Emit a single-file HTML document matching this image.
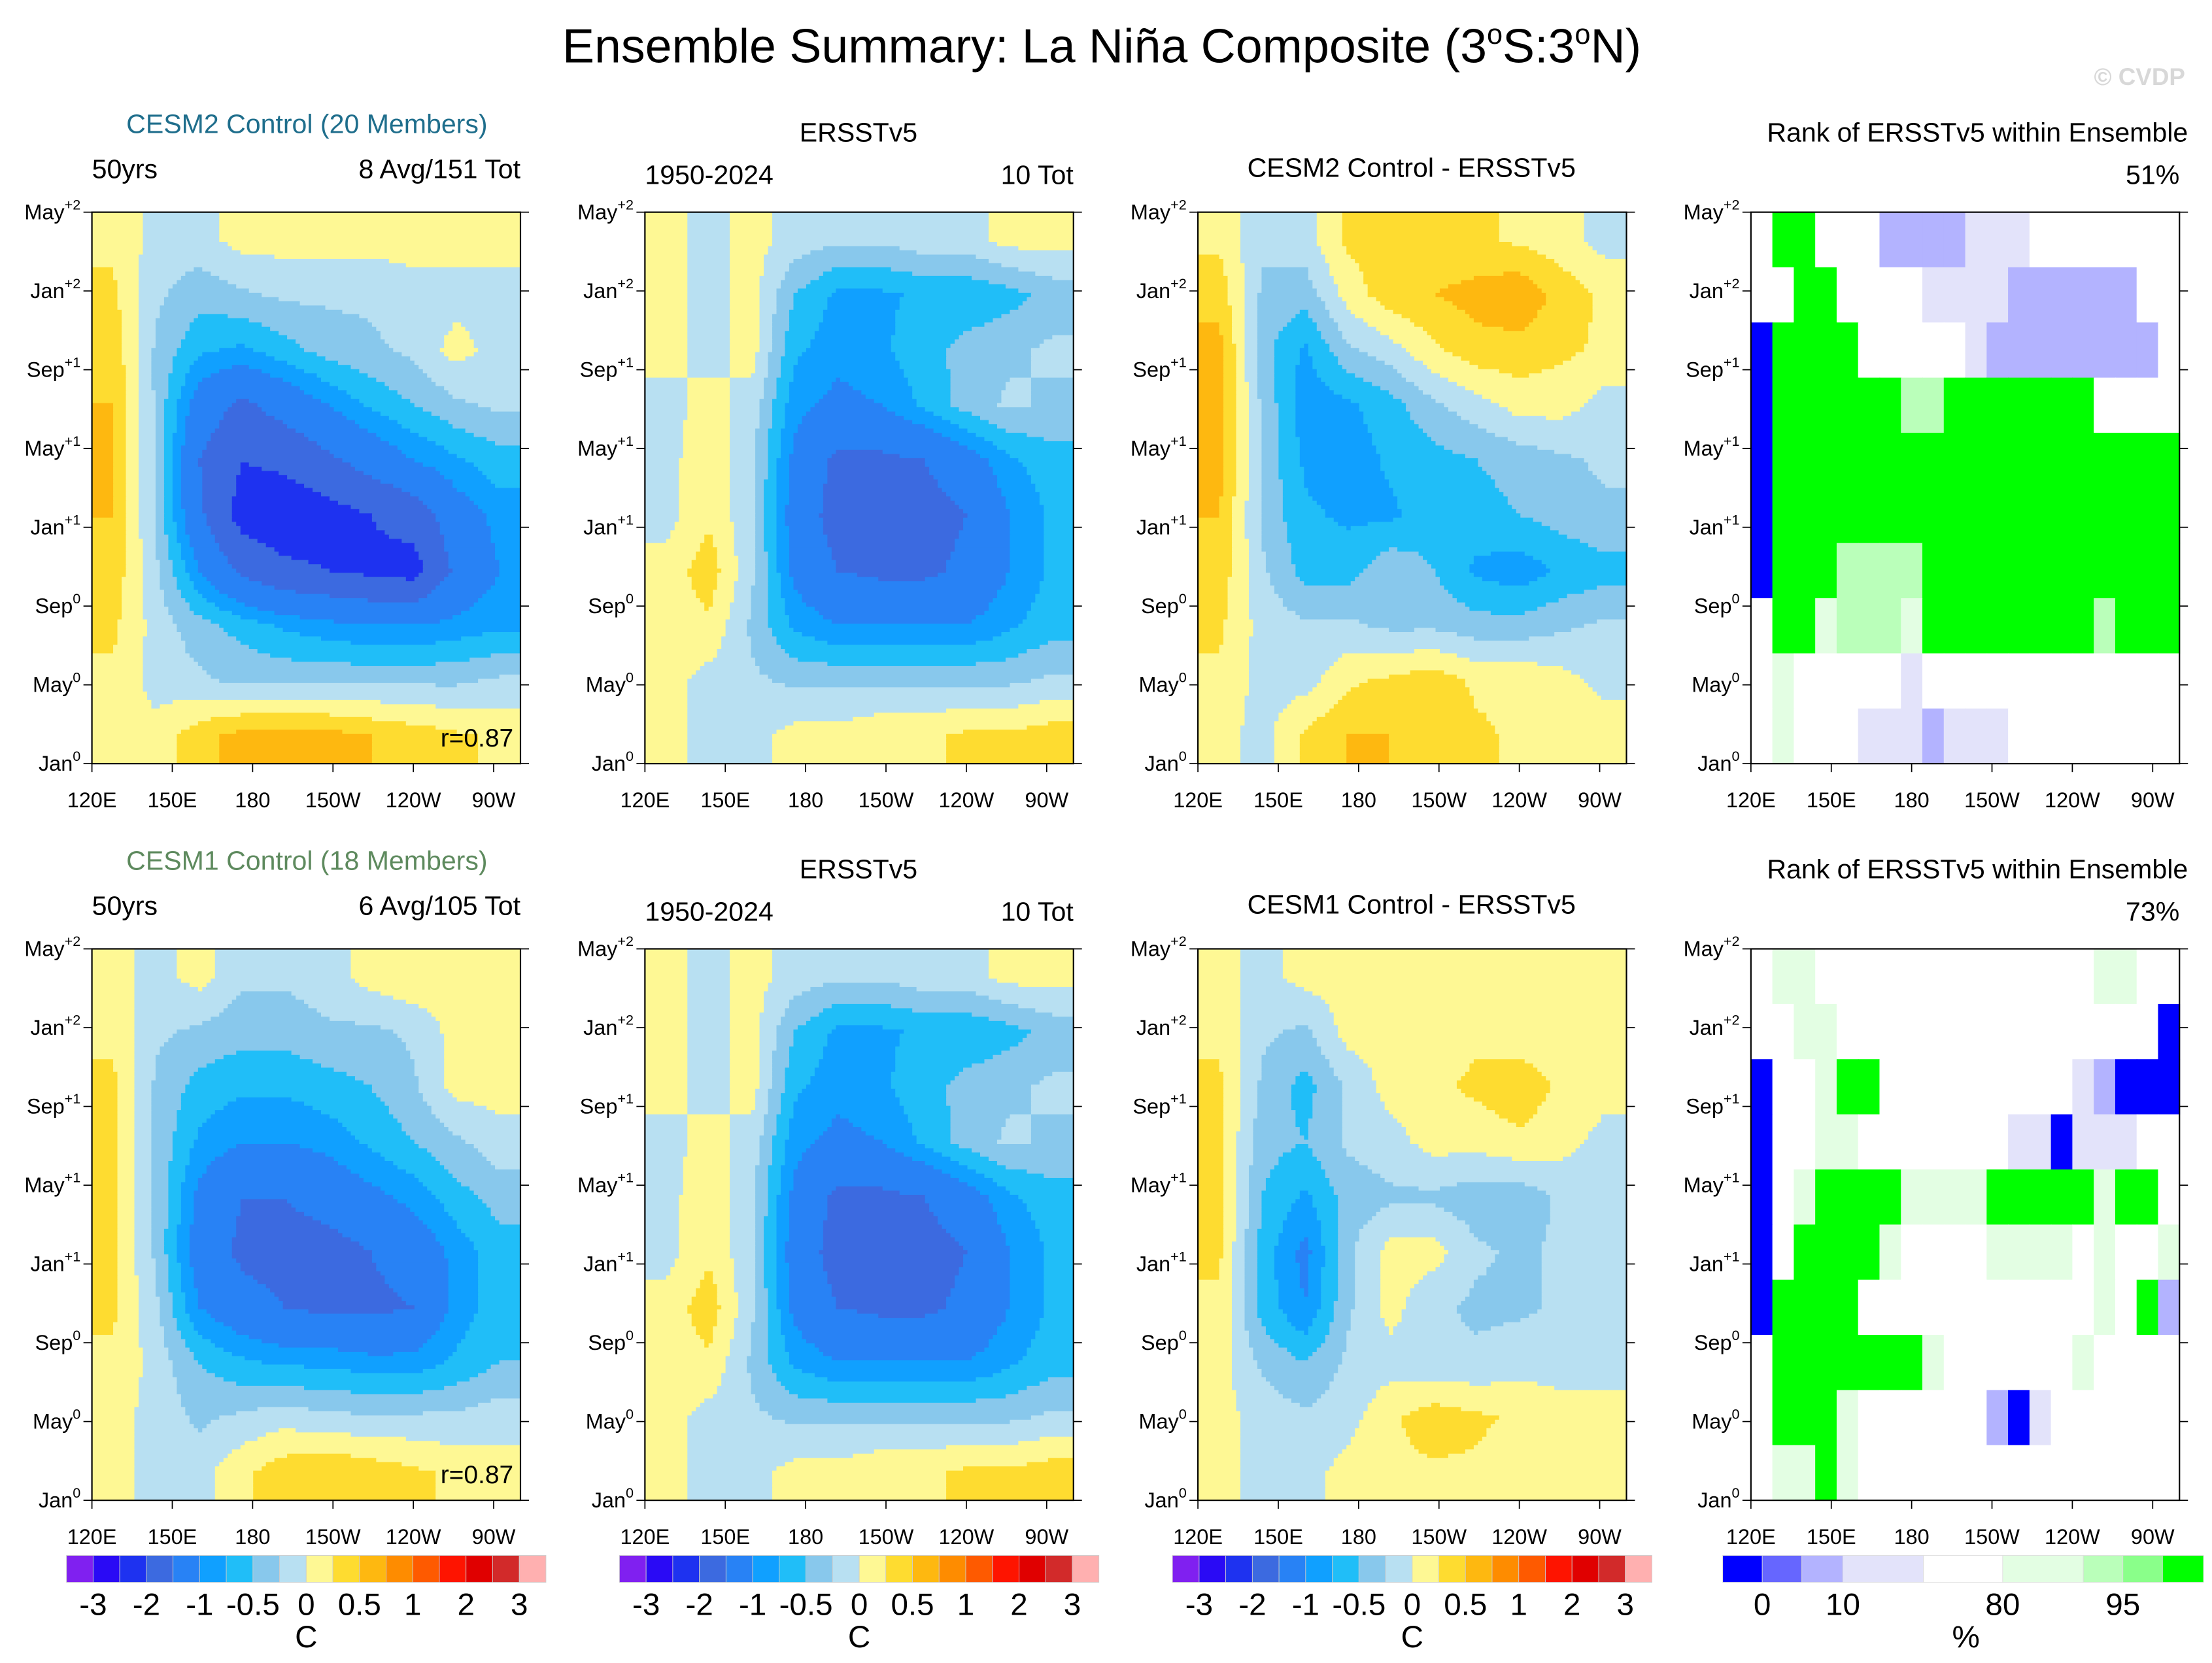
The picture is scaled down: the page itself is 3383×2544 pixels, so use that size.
<!DOCTYPE html>
<html><head><meta charset="utf-8"><style>
html,body{margin:0;padding:0;background:#fff;}
svg{display:block;font-family:"Liberation Sans",sans-serif;}
</style></head><body>
<svg id="fig" xmlns="http://www.w3.org/2000/svg" width="3383" height="2544" viewBox="0 0 1564 1176">
<rect width="1564" height="1176" fill="#fff"/>
<text x="779" y="44" font-size="34" text-anchor="middle">Ensemble Summary: La Niña Composite (3<tspan font-size="20" dy="-13">o</tspan><tspan dy="13">S:3</tspan><tspan font-size="20" dy="-13">o</tspan><tspan dy="13">N)</tspan></text>
<text x="1545" y="60" font-size="17" font-weight="bold" fill="#d8d8d8" text-anchor="end">© CVDP</text>
<g id="layer"></g>
</svg>
<script>
// ---- data (rows: top = May+2 ... bottom = Jan0; cols: 120E -> 80W) ----
const cesm2 = [
[0.2,-0.1,-0.1,0.1,0.1,0.1,0.1,0.1,0.1,0.1],
[0.3,-0.2,-0.4,-0.3,-0.2,-0.2,-0.2,-0.1,-0.1,-0.1],
[0.4,-0.3,-0.7,-0.8,-0.6,-0.4,-0.3,-0.2,0.1,-0.1],
[0.5,-0.3,-1.2,-1.6,-1.3,-1.0,-0.7,-0.5,-0.3,-0.2],
[0.5,-0.3,-1.5,-2.0,-1.9,-1.6,-1.3,-1.0,-0.8,-0.6],
[0.5,-0.3,-1.4,-2.2,-2.3,-2.2,-2.0,-1.8,-1.2,-0.9],
[0.4,-0.2,-1.0,-1.6,-1.9,-2.0,-2.1,-2.2,-1.4,-1.0],
[0.3,-0.1,-0.4,-0.6,-0.8,-0.9,-1.0,-1.0,-0.9,-0.8],
[0.2,-0.1,-0.2,-0.3,-0.3,-0.3,-0.3,-0.3,-0.3,-0.2],
[0.0,0.1,0.4,0.6,0.6,0.6,0.5,0.4,0.3,0.2]];
const ersst = [
[0.1,-0.1,0.1,-0.1,-0.2,-0.2,-0.1,-0.1,0.1,0.1],
[0.1,-0.1,0.1,-0.5,-0.8,-0.8,-0.7,-0.7,-0.6,-0.4],
[0.1,-0.1,0.1,-0.7,-0.9,-0.8,-0.6,-0.4,-0.3,-0.2],
[-0.1,0.1,-0.1,-0.9,-1.1,-1.0,-0.7,-0.4,-0.2,-0.3],
[-0.1,0.2,-0.2,-1.1,-1.6,-1.6,-1.5,-1.2,-0.8,-0.6],
[-0.1,0.2,-0.2,-1.2,-1.7,-1.8,-1.7,-1.5,-1.0,-0.7],
[0.1,0.4,-0.2,-1.1,-1.5,-1.6,-1.6,-1.4,-1.0,-0.7],
[0.1,0.2,-0.3,-0.8,-1.0,-1.0,-1.0,-1.0,-0.8,-0.6],
[0.1,-0.1,-0.2,-0.3,-0.3,-0.3,-0.3,-0.3,-0.3,-0.2],
[0.1,-0.1,-0.1,0.1,0.1,0.2,0.2,0.3,0.3,0.4]];
const diff2 = [
[0.2,-0.2,-0.1,0.3,0.4,0.3,0.3,0.2,0.1,-0.1],
[0.4,-0.3,-0.4,0.1,0.4,0.5,0.6,0.7,0.4,0.2],
[0.6,-0.4,-0.8,-0.3,-0.1,0.2,0.4,0.4,0.3,0.2],
[0.6,-0.3,-0.9,-0.8,-0.6,-0.3,-0.1,0.1,0.1,-0.1],
[0.6,-0.3,-0.8,-0.9,-0.7,-0.6,-0.5,-0.4,-0.3,-0.2],
[0.5,-0.3,-0.7,-0.8,-0.8,-0.6,-0.6,-0.5,-0.4,-0.3],
[0.4,-0.2,-0.6,-0.6,-0.3,-0.5,-0.8,-0.9,-0.7,-0.6],
[0.3,-0.1,-0.2,-0.2,-0.3,-0.3,-0.4,-0.4,-0.3,-0.2],
[0.2,-0.1,-0.1,0.2,0.3,0.4,0.2,0.2,0.1,-0.1],
[0.1,-0.1,0.3,0.5,0.5,0.4,0.3,0.2,0.2,0.2]];
const cesm1 = [
[0.1,-0.1,0.1,-0.2,-0.2,-0.1,0.1,0.2,0.1,0.1],
[0.2,-0.2,-0.3,-0.4,-0.4,-0.3,-0.3,-0.2,0.1,0.1],
[0.3,-0.3,-0.6,-0.7,-0.7,-0.6,-0.5,-0.3,0.1,0.1],
[0.3,-0.3,-0.8,-1.0,-1.0,-0.9,-0.7,-0.5,-0.3,-0.1],
[0.3,-0.3,-1.1,-1.5,-1.5,-1.3,-1.1,-0.9,-0.6,-0.4],
[0.3,-0.3,-1.2,-1.6,-1.7,-1.7,-1.5,-1.3,-0.9,-0.6],
[0.3,-0.2,-1.0,-1.3,-1.5,-1.6,-1.6,-1.5,-0.9,-0.6],
[0.2,-0.1,-0.5,-0.7,-0.8,-0.8,-0.9,-0.9,-0.7,-0.5],
[0.1,-0.1,-0.3,-0.2,-0.1,-0.2,-0.2,-0.2,-0.2,-0.1],
[0.1,-0.1,-0.1,0.2,0.4,0.5,0.4,0.3,0.2,0.1]];
const diff1 = [
[0.1,-0.1,0.1,0.1,0.1,0.2,0.1,0.1,0.1,0.1],
[0.2,-0.2,-0.3,0.1,0.1,0.1,0.2,0.1,0.1,0.1],
[0.3,-0.3,-0.6,-0.2,0.1,0.2,0.3,0.4,0.2,0.1],
[0.3,-0.4,-0.5,-0.2,-0.1,0.1,0.1,0.2,0.1,-0.1],
[0.3,-0.5,-0.8,-0.4,-0.3,-0.3,-0.4,-0.4,-0.2,-0.2],
[0.3,-0.6,-1.1,-0.3,0.1,0.1,-0.2,-0.3,-0.2,-0.2],
[0.2,-0.6,-1.0,-0.3,0.1,-0.2,-0.3,-0.3,-0.2,-0.1],
[0.1,-0.3,-0.5,-0.2,-0.1,-0.2,-0.2,-0.1,-0.1,-0.1],
[0.1,-0.1,-0.2,-0.1,0.2,0.4,0.3,0.2,0.1,0.1],
[0.1,-0.1,-0.1,0.1,0.2,0.2,0.2,0.1,0.1,0.1]];
const rank2 = [
[50,99,99,50,50,50,8,8,8,8,15,15,15,50,50,50,50,50,50,50],
[50,50,99,99,50,50,50,50,15,15,15,15,8,8,8,8,8,8,50,50],
[1,99,99,99,99,50,50,50,50,50,15,8,8,8,8,8,8,8,8,50],
[1,99,99,99,99,99,99,92,92,99,99,99,99,99,99,99,50,50,50,50],
[1,99,99,99,99,99,99,99,99,99,99,99,99,99,99,99,99,99,99,99],
[1,99,99,99,99,99,99,99,99,99,99,99,99,99,99,99,99,99,99,99],
[1,99,99,99,92,92,92,92,99,99,99,99,99,99,99,99,99,99,99,99],
[50,99,99,85,92,92,92,85,99,99,99,99,99,99,99,99,92,99,99,99],
[50,85,50,50,50,50,50,15,50,50,50,50,50,50,50,50,50,50,50,50],
[50,85,50,50,50,15,15,15,8,15,15,15,50,50,50,50,50,50,50,50]];
const rank1 = [
[50,85,85,50,50,50,50,50,50,50,50,50,50,50,50,50,85,85,50,50],
[50,50,85,85,50,50,50,50,50,50,50,50,50,50,50,50,50,50,50,1],
[1,50,50,85,99,99,50,50,50,50,50,50,50,50,50,15,8,1,1,1],
[1,50,50,85,85,50,50,50,50,50,50,50,15,15,1,15,15,15,50,50],
[1,50,85,99,99,99,99,85,85,85,85,99,99,99,99,99,85,99,99,50],
[1,50,99,99,99,99,85,50,50,50,50,85,85,85,85,50,85,50,50,85],
[1,99,99,99,99,50,50,50,50,50,50,50,50,50,50,50,85,50,99,8],
[50,99,99,99,99,99,99,99,85,50,50,50,50,50,50,85,50,50,50,50],
[50,99,99,99,85,50,50,50,50,50,50,8,1,15,50,50,50,50,50,50],
[50,85,85,99,85,50,50,50,50,50,50,50,50,50,50,50,50,50,50,50]];
const rankPct = ["51%","73%"];
const corrLabels = ["r=0.87","r=0.87"];
const sstLevels = [-3,-2.5,-2,-1.5,-1,-0.75,-0.5,-0.25,0,0.25,0.5,0.75,1,1.5,2,2.5,3];
const sstColors = ["#8020f0","#2a0af5","#1e32f0","#3c6ae0","#2882f5","#10a0ff","#20bef8","#88c8ec","#b8e0f2","#fef894","#fedc30","#feb810","#fe8c00","#fe5a00","#fe1400","#e00000","#d22a2a","#ffb0b0"];
const sstTickLabels = ["-3","-2","-1","-0.5","0","0.5","1","2","3"];
const sstTickIdx = [0,2,4,6,8,10,12,14,16];
const rankLevels = [2.5,5,10,25,80,90,95,97.5];
const rankColors = ["#0000ff","#6666ff","#b3b3ff","#e3e3fa","#ffffff","#e3fee3","#baffba","#8aff8a","#00ff00"];
const rankTickLabels = ["0","10","80","95"];
const rankTickIdx = [1,3,5,7];
const yMonths = [28,24,20,16,12,8,4,0];
const yLabBase = ["May","Jan","Sep","May","Jan","Sep","May","Jan"];
const ySup = ["+2","+2","+1","+1","+1","0","0","0"];
const lonTicks = [120,150,180,210,240,270];
const lonLabels = ["120E","150E","180","150W","120W","90W"];

const NS="http://www.w3.org/2000/svg";
const layer=document.getElementById('layer');
function mk(tag,attrs,parent){const e=document.createElementNS(NS,tag);for(const k in attrs)e.setAttribute(k,attrs[k]);(parent||layer).appendChild(e);return e;}
const PX=[65,456,847,1238], PY=[150,671], PW=303, PH=390;
function xLon(x0,lon){return x0+(lon-120)/160*PW;}
function yMon(y0,m){return y0+PH*(1-m/28);}
function sstColor(v){let i=0;while(i<sstLevels.length&&v>=sstLevels[i])i++;return sstColors[i];}
function rankColor(v){let i=0;while(i<rankLevels.length&&v>=rankLevels[i])i++;return rankColors[i];}
function sample(g,fx,fy){
  const nr=g.length,nc=g[0].length;
  fx=Math.max(0,Math.min(nc-1,fx));fy=Math.max(0,Math.min(nr-1,fy));
  const i=Math.min(nc-2,Math.floor(fx)),j=Math.min(nr-2,Math.floor(fy));
  const tx=fx-i,ty=fy-j;
  return (g[j][i]*(1-tx)+g[j][i+1]*tx)*(1-ty)+(g[j+1][i]*(1-tx)+g[j+1][i+1]*tx)*ty;}

function drawContour(g,x0,y0,name){
  const grp=mk('g',{});
  
  
  const nr=g.length,nc=g[0].length,cs=3;
  for(let py=0;py<PH;py+=cs){
    const fy=(py+cs/2)/PH*nr-0.5;
    let runStart=0,runCol=null;
    for(let px=0;px<=PW;px+=cs){
      let col=null;
      if(px<PW){const fx=(px+cs/2)/PW*nc-0.5;col=sstColor(sample(g,fx,fy));}
      if(col!==runCol){
        if(runCol!==null){mk('rect',{x:x0+runStart,y:y0+py,width:Math.min(px,PW)-runStart+0.4,height:Math.min(cs,PH-py)+0.4,fill:runCol},grp);}
        runStart=px;runCol=col;}
    }
  }
}
function drawRank(g,x0,y0,name){
  const grp=mk('g',{});
  
  
  const nr=g.length,nc=g[0].length;
  for(let j=0;j<nr;j++)for(let i=0;i<nc;i++){
    const r=mk('rect',{x:x0+i*PW/nc,y:y0+j*PH/nr,width:PW/nc+0.4,height:PH/nr+0.4,fill:rankColor(g[j][i])},grp);
    
    
  }
}
function drawAxes(x0,y0){
  const f=mk('rect',{x:x0,y:y0,width:PW,height:PH,fill:'none',stroke:'#000','stroke-width':1});
  
  
  yMonths.forEach((m,k)=>{
    const y=yMon(y0,m);
    mk('line',{x1:x0-6,x2:x0,y1:y,y2:y,stroke:'#000','stroke-width':0.8});
    mk('line',{x1:x0+PW,x2:x0+PW+6,y1:y,y2:y,stroke:'#000','stroke-width':0.8});
    const t=mk('text',{x:x0-8,y:y+5,'font-size':15,'text-anchor':'end'});
    
    
    t.appendChild(document.createTextNode(yLabBase[k]));
    const s=mk('tspan',{'font-size':10,dy:-7},t);s.textContent=ySup[k];
  });
  lonTicks.forEach((lon,k)=>{
    const x=xLon(x0,lon);
    mk('line',{x1:x,x2:x,y1:y0+PH,y2:y0+PH+6,stroke:'#000','stroke-width':0.8});
    const t=mk('text',{x:x,y:y0+PH+31,'font-size':15,'text-anchor':'middle'});
    
    
    t.textContent=lonLabels[k];
  });
}
function txt(s,x,y,size,anchor,fill,name){
  const t=mk('text',{x:x,y:y,'font-size':size,'text-anchor':anchor,fill:fill||'#000'});
  
  
  t.textContent=s;return t;}

const rows=[
 {model:cesm2,diff:diff2,rank:rank2,title:"CESM2 Control (20 Members)",tcol:"#1f6e8c",avg:"8 Avg/151 Tot",dname:"CESM2 Control - ERSSTv5"},
 {model:cesm1,diff:diff1,rank:rank1,title:"CESM1 Control (18 Members)",tcol:"#5e8a5e",avg:"6 Avg/105 Tot",dname:"CESM1 Control - ERSSTv5"}];
rows.forEach((r,ri)=>{
  const y0=PY[ri], o=ri*521;
  drawContour(r.model,PX[0],y0,'model-hovmoller');
  drawContour(ersst,PX[1],y0,'obs-hovmoller');
  drawContour(r.diff,PX[2],y0,'difference-hovmoller');
  drawRank(r.rank,PX[3],y0,'rank-map');
  PX.forEach(x=>drawAxes(x,y0));
  txt(r.title,217,94+o,19,'middle',r.tcol,'model-title');
  txt("50yrs",65,126+o,19,'start','#000','years-label');
  txt(r.avg,368,126+o,19,'end','#000','event-count');
  txt("ERSSTv5",607,100+o,19,'middle','#000','obs-title');
  txt("1950-2024",456,130+o,19,'start','#000','obs-years');
  txt("10 Tot",759,130+o,19,'end','#000','obs-count');
  txt(r.dname,998,125+o,19,'middle','#000','diff-title');
  txt("Rank of ERSSTv5 within Ensemble",1547,100+o,19,'end','#000','rank-title');
  txt(rankPct[ri],1541,130+o,19,'end','#000','rank-percent');
  txt(corrLabels[ri],363,528+o,18,'end','#000','pattern-correlation');
});
[47,438,829].forEach(cx=>{
  const g=mk('g',{});
  
  
  const bw=339/sstColors.length;
  sstColors.forEach((c,i)=>mk('rect',{x:cx+i*bw,y:1100,width:bw,height:19,fill:c,stroke:'#ccc','stroke-width':0.4},g));
  sstTickIdx.forEach((b,k)=>{const t=mk('text',{x:cx+(b+1)*bw,y:1142,'font-size':22,'text-anchor':'middle'},g);t.textContent=sstTickLabels[k];});
  const u=mk('text',{x:cx+9*bw,y:1165,'font-size':22,'text-anchor':'middle'},g);u.textContent="C";
});
{
  const g=mk('g',{});
  
  
  const edges=[1218,1246,1274,1303,1360,1416,1473,1501,1529,1558];
  rankColors.forEach((c,i)=>mk('rect',{x:edges[i],y:1100,width:edges[i+1]-edges[i],height:19,fill:c,stroke:'#ddd','stroke-width':0.4},g));
  rankTickIdx.forEach((b,k)=>{const t=mk('text',{x:edges[b],y:1142,'font-size':22,'text-anchor':'middle'},g);t.textContent=rankTickLabels[k];});
  const u=mk('text',{x:1390,y:1165,'font-size':22,'text-anchor':'middle'},g);u.textContent="%";
}
</script>
</body></html>
